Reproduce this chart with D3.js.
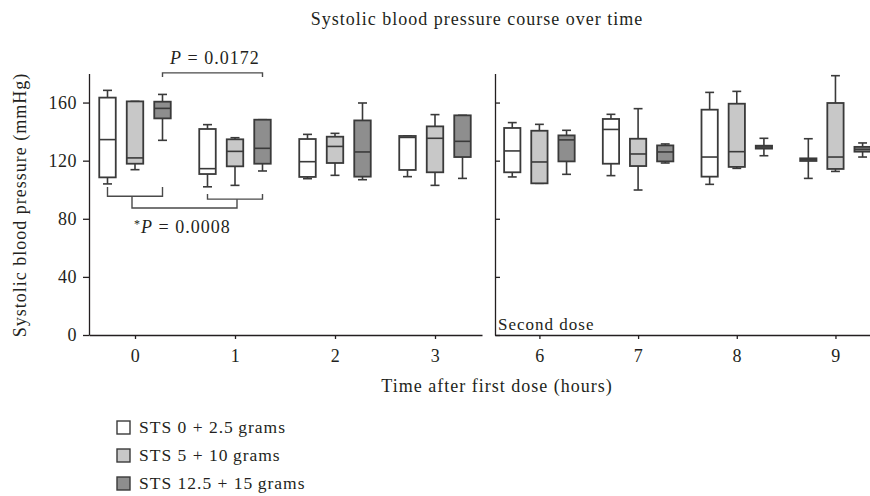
<!DOCTYPE html>
<html>
<head>
<meta charset="utf-8">
<script src="https://cdn.jsdelivr.net/npm/d3@7"></script>
<style>
  body { margin: 0; background: #fff; }
  svg text { font-family: "Liberation Serif", "Times New Roman", serif; fill: #231f20; }
</style>
</head>
<body>
<div id="chart"></div>
<script>
// hours after first dose, split into two panels
const hoursFirst = [0, 1, 2, 3];
const hoursSecond = [6, 7, 8, 9];
const yTicks = [0, 40, 80, 120, 160];

const seriesNames = ["STS 0 + 2.5\u2009grams", "STS 5 + 10\u2009grams", "STS 12.5 + 15\u2009grams"];
const seriesFill = ["#ffffff", "#c8c8c8", "#8e8e8e"];

// [whisker low, q1, median, q3, whisker high] per hour (0,1,2,3,6,7,8,9)
const sts0 = [
  [104, 108.5, 134.5, 163.4, 168.4],
  [102, 110.8, 114.5, 141.8, 144.8],
  [107.6, 108.8, 119.3, 134.9, 138.1],
  [109, 113.6, 136, 137, 137],
  [108.8, 112, 126.7, 142.5, 146.2],
  [109.7, 117.9, 141.5, 148.7, 151.9],
  [103.7, 109, 122.5, 155.1, 167],
  [107.8, 119.8, 120.7, 121.6, 135.1]
];
const sts5 = [
  [113.8, 117.9, 121.9, 160.8, 160.8],
  [103, 116.1, 126.4, 134.7, 135.8],
  [109.9, 118.4, 129.8, 136.5, 138.8],
  [103, 112, 135.4, 143.6, 151.7],
  [104.4, 104.4, 119.1, 140.6, 145],
  [99.8, 116.3, 124.6, 135.1, 155.8],
  [114.7, 115.7, 126.2, 159.2, 167.7],
  [112.6, 114.3, 122.5, 159.7, 178.5]
];
const sts125 = [
  [134, 149.1, 156, 160.6, 165.6],
  [112.9, 117.9, 128.5, 148.2, 148.2],
  [106.9, 109, 126, 147.7, 159.7],
  [107.8, 122.5, 133.3, 151.2, 151.2],
  [110.6, 119.5, 134.3, 137.4, 140.9],
  [118.4, 119.5, 126, 130.5, 131.5],
  [123.4, 128.3, 129.4, 130.3, 135.4],
  [122.5, 126.2, 127.8, 129.5, 132.2]
];
const allSeries = [sts0, sts5, sts125];

const width = 870, height = 496;
const ink = "#3a3a3a";
const fontSize = "18px";
const spacing = "1px";

const svg = d3.select("#chart").append("svg")
  .attr("width", width)
  .attr("height", height);

const y = d3.scaleLinear().domain([0, 180]).range([335, 73.5]);
const xLeft = d3.scaleLinear().domain([-0.46, 3.47]).range([89, 482]);
const xRight = d3.scaleLinear().domain([5.55, 9.35]).range([495, 870]);

const offset = 0.275;   // hours between boxes in a group
const boxW = 0.165;
const capW = 0.09;

// title
svg.append("text")
  .attr("x", 477).attr("y", 25)
  .attr("text-anchor", "middle")
  .style("font-size", fontSize)
  .style("letter-spacing", spacing)
  .text("Systolic blood pressure course over time");

// left axis
const gLeftY = svg.append("g")
  .attr("transform", `translate(${xLeft.range()[0]},0)`)
  .call(d3.axisLeft(y).tickValues(yTicks).tickSize(6).tickSizeOuter(0).tickPadding(6));
const gLeftX = svg.append("g")
  .attr("transform", `translate(0,${y(0)})`)
  .call(d3.axisBottom(xLeft).tickValues(hoursFirst).tickFormat(d3.format("d"))
    .tickSize(4).tickSizeOuter(0).tickPadding(10));

// right axis (ticks inward, no labels)
const gRightY = svg.append("g")
  .attr("transform", `translate(${xRight.range()[0]},0)`)
  .call(d3.axisRight(y).tickValues(yTicks).tickSize(5).tickSizeOuter(0).tickFormat(""));
const gRightX = svg.append("g")
  .attr("transform", `translate(0,${y(0)})`)
  .call(d3.axisBottom(xRight).tickValues(hoursSecond).tickFormat(d3.format("d"))
    .tickSize(4).tickSizeOuter(0).tickPadding(10));

[gLeftY, gLeftX, gRightY, gRightX].forEach(g => {
  g.select(".domain").attr("stroke", "#231f20").attr("stroke-width", 1.3);
  g.selectAll(".tick line").attr("stroke", "#231f20").attr("stroke-width", 1.3);
  g.selectAll(".tick text")
    .style("font-family", "Liberation Serif, serif")
    .style("font-size", fontSize)
    .style("letter-spacing", "0.5px")
    .attr("fill", "#231f20");
});

// box plots
const hoursAll = hoursFirst.concat(hoursSecond);
allSeries.forEach((series, si) => {
  series.forEach((d, hi) => {
    const h = hoursAll[hi];
    const x = h < 5 ? xLeft : xRight;
    const c = h + (si - 1) * offset;
    const g = svg.append("g");
    const [lo, q1, med, q3, top] = d;
    // whiskers
    g.append("line")
      .attr("x1", x(c)).attr("x2", x(c))
      .attr("y1", y(top)).attr("y2", y(q3))
      .attr("stroke", ink).attr("stroke-width", 1.6);
    g.append("line")
      .attr("x1", x(c)).attr("x2", x(c))
      .attr("y1", y(q1)).attr("y2", y(lo))
      .attr("stroke", ink).attr("stroke-width", 1.6);
    [lo, top].forEach(v => {
      g.append("line")
        .attr("x1", x(c - capW / 2)).attr("x2", x(c + capW / 2))
        .attr("y1", y(v)).attr("y2", y(v))
        .attr("stroke", ink).attr("stroke-width", 1.6);
    });
    // box
    g.append("rect")
      .attr("x", x(c - boxW / 2))
      .attr("width", x(c + boxW / 2) - x(c - boxW / 2))
      .attr("y", y(q3))
      .attr("height", Math.max(y(q1) - y(q3), 0.5))
      .attr("fill", seriesFill[si])
      .attr("stroke", ink).attr("stroke-width", 1.8);
    g.append("line")
      .attr("x1", x(c - boxW / 2)).attr("x2", x(c + boxW / 2))
      .attr("y1", y(med)).attr("y2", y(med))
      .attr("stroke", ink).attr("stroke-width", 1.6);
  });
});

// significance brackets
const bracket = svg.append("g")
  .attr("fill", "none")
  .attr("stroke", "#4a4a4a")
  .attr("stroke-width", 1.4);

// P = 0.0172 : hour 0 vs hour 1 (highest dose)
bracket.append("path").attr("d",
  `M${xLeft(offset)},${y(177.6)} V${y(180.4)} H${xLeft(1 + offset)} V${y(177.6)}`);

// *P = 0.0008 : all of hour 0 vs all of hour 1
bracket.append("path").attr("d",
  `M${xLeft(-offset)},${y(101.9)} V${y(95.5)} H${xLeft(offset)} V${y(101.9)}`);
bracket.append("path").attr("d",
  `M${xLeft(1 - offset)},${y(97)} V${y(93.5)} H${xLeft(1 + offset)} V${y(97)}`);
bracket.append("path").attr("d",
  `M${xLeft(-0.03)},${y(95.5)} V${y(87.4)} H${xLeft(1.02)} V${y(93.5)}`);

const p1 = svg.append("text")
  .attr("x", 170).attr("y", 64)
  .style("font-size", fontSize)
  .style("letter-spacing", spacing);
p1.append("tspan").style("font-style", "italic").text("P");
p1.append("tspan").text(" = 0.0172");

const p2 = svg.append("text")
  .attr("x", 134).attr("y", 233)
  .style("font-size", fontSize)
  .style("letter-spacing", spacing);
p2.append("tspan").attr("dy", -5).style("font-size", "12px").text("*");
p2.append("tspan").attr("dy", 5).style("font-style", "italic").text("P");
p2.append("tspan").text(" = 0.0008");

// second dose label
svg.append("text")
  .attr("x", xRight.range()[0] + 3).attr("y", 330)
  .style("font-size", "17px")
  .style("letter-spacing", spacing)
  .text("Second dose");

// axis titles
svg.append("text")
  .attr("transform", "rotate(-90)")
  .attr("x", -205).attr("y", 26)
  .attr("text-anchor", "middle")
  .style("font-size", fontSize)
  .style("letter-spacing", spacing)
  .text("Systolic blood pressure (mmHg)");

svg.append("text")
  .attr("x", 497).attr("y", 392)
  .attr("text-anchor", "middle")
  .style("font-size", fontSize)
  .style("letter-spacing", spacing)
  .text("Time after first dose (hours)");

// legend
const legend = svg.append("g").attr("transform", "translate(117,421)");
seriesNames.forEach((name, i) => {
  const row = legend.append("g").attr("transform", `translate(0,${i * 28})`);
  row.append("rect")
    .attr("x", 0).attr("y", 0)
    .attr("width", 13).attr("height", 13)
    .attr("fill", seriesFill[i])
    .attr("stroke", ink).attr("stroke-width", 1.4);
  row.append("text")
    .attr("x", 22).attr("y", 12)
    .style("font-size", "17.5px")
    .style("letter-spacing", spacing)
    .text(name);
});
</script>
</body>
</html>
